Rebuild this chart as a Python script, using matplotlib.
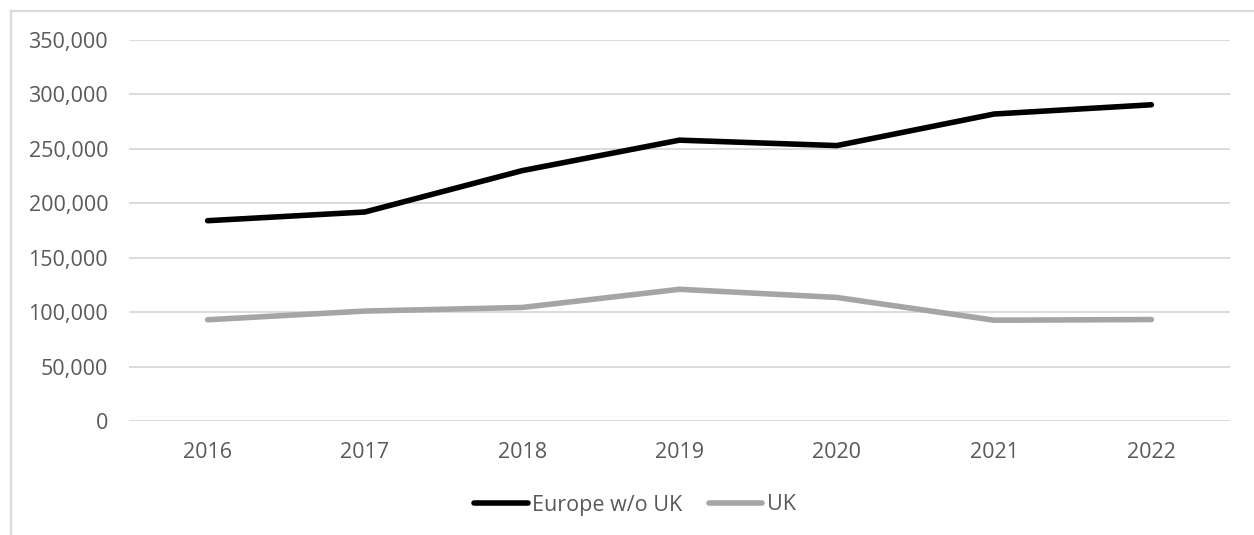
import matplotlib
matplotlib.use("Agg")
import matplotlib.pyplot as plt
from matplotlib.lines import Line2D
from matplotlib.ticker import FuncFormatter

years = ["2016", "2017", "2018", "2019", "2020", "2021", "2022"]
europe_wo_uk = [184000, 192000, 230000, 258000, 253000, 282000, 290500]
uk = [93000, 101000, 104300, 121000, 113500, 92600, 93200]
y_ticks = [0, 50000, 100000, 150000, 200000, 250000, 300000, 350000]

W, H = 1254, 535
fig = plt.figure(figsize=(W / 100, H / 100), dpi=100)
plt.rcParams['font.family'] = ['Open Sans', 'DejaVu Sans']

ax = fig.add_axes([129 / W, 1 - 421 / H, (1230 - 129) / W, (421 - 40) / H])
x = list(range(len(years)))
ax.plot(x, europe_wo_uk, color="#000000", lw=4.0, solid_capstyle="round",
        solid_joinstyle="round", label="Europe w/o UK", zorder=3)
ax.plot(x, uk, color="#A5A5A5", lw=4.0, solid_capstyle="round",
        solid_joinstyle="round", label="UK", zorder=3)

ax.set_xlim(-0.5, len(years) - 0.5)
ax.set_ylim(0, 350000)
ax.set_yticks(y_ticks)
ax.yaxis.set_major_formatter(FuncFormatter(lambda v, p: f"{int(v):,}"))
ax.set_xticks(x)
ax.set_xticklabels(years)
ax.grid(axis="y", color="#D9D9D9", lw=1.3)
ax.set_axisbelow(True)
for s in ax.spines.values():
    s.set_visible(False)
ax.tick_params(axis="both", length=0, labelsize=15.5, colors="#595959")
ax.tick_params(axis="y", pad=15)
ax.tick_params(axis="x", pad=15)

leg = fig.legend(loc="center", bbox_to_anchor=(635 / W, 1 - 505 / H), ncol=2,
                 frameon=False, fontsize=15.5, handlelength=2.5,
                 handletextpad=0.22, columnspacing=1.2)
for t in leg.get_texts():
    t.set_color("#595959")

# outer chart frame
fig.add_artist(Line2D([11 / W, 1.0], [1 - 11 / H, 1 - 11 / H], color="#D9D9D9",
                      lw=1.6, transform=fig.transFigure))
fig.add_artist(Line2D([11 / W, 11 / W], [1 - 11 / H, 0.0], color="#D9D9D9",
                      lw=1.6, transform=fig.transFigure))

fig.savefig("out.png", dpi=100, facecolor="white")
